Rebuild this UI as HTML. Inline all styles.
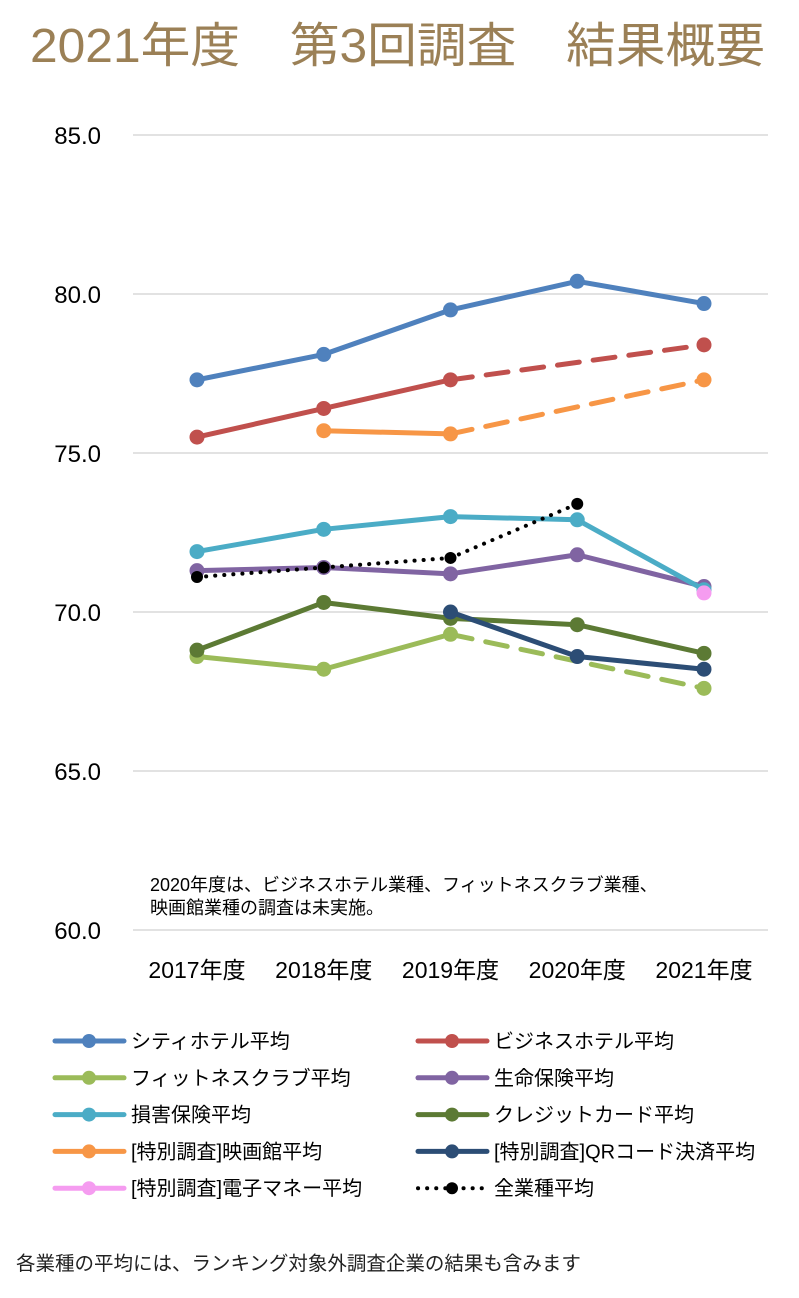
<!DOCTYPE html>
<html><head><meta charset="utf-8"><style>
body{margin:0;background:#fff;font-family:"Liberation Sans","Noto Sans CJK JP",sans-serif}
svg text{font-family:"Liberation Sans","Noto Sans CJK JP",sans-serif}
</style></head><body>
<svg id="c" width="799" height="1293" xmlns="http://www.w3.org/2000/svg">
<text x="30" y="62" textLength="735" lengthAdjust="spacingAndGlyphs" font-size="48" fill="#9b8056">2021年度　第3回調査　結果概要</text>
<g id="grid"></g><g id="series"></g><g id="legend"></g>
<text x="150" y="891" font-size="18" fill="#000">2020年度は、ビジネスホテル業種、フィットネスクラブ業種、</text>
<text x="150" y="914" font-size="18" fill="#000">映画館業種の調査は未実施。</text>
<text x="16" y="1270" font-size="19.5" fill="#222">各業種の平均には、ランキング対象外調査企業の結果も含みます</text>
</svg>
<script>
const categories=["2017年度","2018年度","2019年度","2020年度","2021年度"];
const yTicks=[60,65,70,75,80,85];
const seriesNames=["シティホテル平均","ビジネスホテル平均","フィットネスクラブ平均","生命保険平均","損害保険平均","クレジットカード平均","[特別調査]映画館平均","[特別調査]QRコード決済平均","[特別調査]電子マネー平均","全業種平均"];
const cityHotel=[77.3,78.1,79.5,80.4,79.7];
const businessHotel=[75.5,76.4,77.3,null,78.4];
const fitness=[68.6,68.2,69.3,null,67.6];
const lifeIns=[71.3,71.4,71.2,71.8,70.8];
const damageIns=[71.9,72.6,73.0,72.9,70.7];
const creditCard=[68.8,70.3,69.8,69.6,68.7];
const cinema=[null,75.7,75.6,null,77.3];
const qrPay=[null,null,70.0,68.6,68.2];
const eMoney=[null,null,null,null,70.6];
const allInd=[71.1,71.4,71.7,73.4,null];
const seriesValues=[cityHotel,businessHotel,fitness,lifeIns,damageIns,creditCard,cinema,qrPay,eMoney,allInd];
const colors=["#4f81bd","#c0504d","#9bbb59","#8064a2","#4bacc6","#5c7a34","#f79646","#2c4d75","#f59cf0","#000"];
const NS="http://www.w3.org/2000/svg";
const x=i=>197+i*126.75;
const y=v=>930-(v-60)*31.8;
function mk(tag,attrs,parent){const e=document.createElementNS(NS,tag);for(const k in attrs)e.setAttribute(k,attrs[k]);parent.appendChild(e);return e;}
const grid=document.getElementById('grid');
yTicks.forEach(t=>{
 const l=mk('line',{x1:133,x2:768,y1:y(t),y2:y(t),stroke:'#d9d9d9','stroke-width':1.5},grid);
 
 
 const tx=mk('text',{x:101,y:y(t)+9,'text-anchor':'end','font-size':24},grid);tx.textContent=t.toFixed(1);
 
 
});
categories.forEach((c,i)=>{
 const tx=mk('text',{x:x(i),y:978,'text-anchor':'middle','font-size':23},grid);tx.textContent=c;
 
 
});
const sg=document.getElementById('series');
seriesValues.forEach((vals,s)=>{
 const g=mk('g',{},sg);
 
 
 const isAll=s===9;
 let prev=-1;
 vals.forEach((v,i)=>{
  if(v==null)return;
  if(prev>=0){
   const gap=i-prev>1;
   const a={x1:x(prev),y1:y(vals[prev]),x2:x(i),y2:y(v),stroke:colors[s],'stroke-width':isAll?4:5,'stroke-linecap':'round'};
   if(isAll)a['stroke-dasharray']='0.1 9';
   else if(gap)a['stroke-dasharray']='22 14';
   const l=mk('line',a,g);
   
   
  }
  prev=i;
 });
 vals.forEach((v,i)=>{
  if(v==null)return;
  const c=mk('circle',{cx:x(i),cy:y(v),r:isAll?6:7.5,fill:colors[s]},g);
  
  
 });
});
const lg=document.getElementById('legend');
seriesNames.forEach((n,s)=>{
 const col=s%2,row=Math.floor(s/2);
 const lx=col?415:52, ly=1041+row*36.8;
 const g=mk('g',{},lg);
 
 
 const a={x1:lx+3,x2:lx+72,y1:ly,y2:ly,stroke:colors[s],'stroke-width':s===9?4:5,'stroke-linecap':'round'};
 if(s===9)a['stroke-dasharray']='0.1 9';
 mk('line',a,g);
 mk('circle',{cx:lx+37,cy:ly,r:s===9?6:7,fill:colors[s]},g);
 const t=mk('text',{x:lx+79,y:ly+7,'font-size':20},g);t.textContent=n;
});
</script>
</body></html>
